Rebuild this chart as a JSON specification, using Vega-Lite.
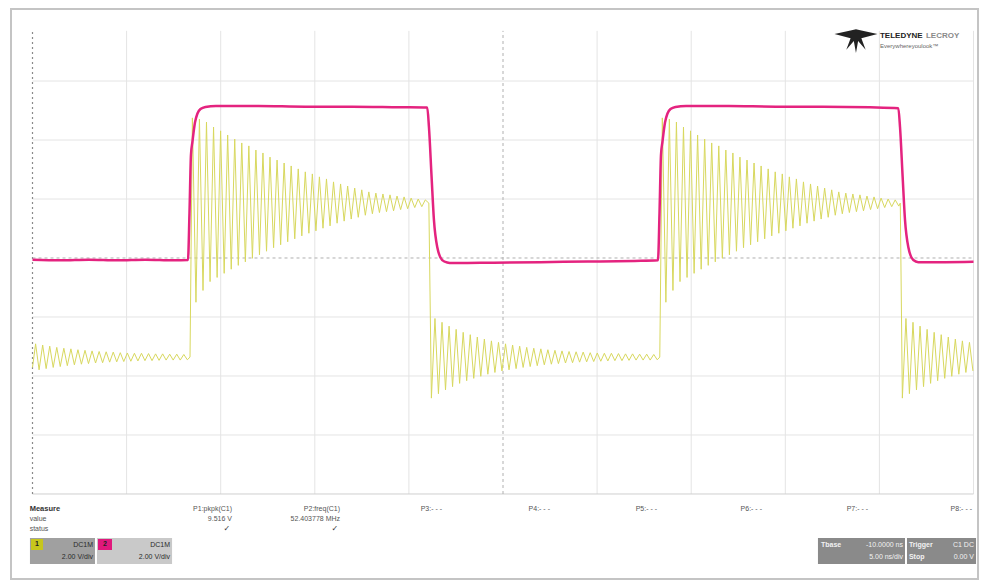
{
"$schema":"https://vega.github.io/schema/vega-lite/v6.json",
"width":982,"height":587,"padding":0,"autosize":{"type":"none"},
"background":"white",
"config":{"view":{"stroke":null}},
"datasets":{
"c1":[{"t":0,"v":-3.71},{"t":0.033,"v":-2.91},{"t":0.07,"v":-3.79},{"t":0.108,"v":-2.95},{"t":0.145,"v":-3.75},{"t":0.183,"v":-2.99},{"t":0.22,"v":-3.71},{"t":0.258,"v":-3.03},{"t":0.295,"v":-3.68},{"t":0.333,"v":-3.06},{"t":0.37,"v":-3.65},{"t":0.408,"v":-3.08},{"t":0.445,"v":-3.62},{"t":0.483,"v":-3.11},{"t":0.52,"v":-3.6},{"t":0.558,"v":-3.13},{"t":0.595,"v":-3.58},{"t":0.633,"v":-3.15},{"t":0.67,"v":-3.56},{"t":0.708,"v":-3.17},{"t":0.745,"v":-3.55},{"t":0.783,"v":-3.18},{"t":0.82,"v":-3.53},{"t":0.858,"v":-3.19},{"t":0.895,"v":-3.52},{"t":0.933,"v":-3.21},{"t":0.97,"v":-3.51},{"t":1.008,"v":-3.22},{"t":1.045,"v":-3.5},{"t":1.083,"v":-3.23},{"t":1.12,"v":-3.49},{"t":1.158,"v":-3.23},{"t":1.195,"v":-3.48},{"t":1.233,"v":-3.24},{"t":1.27,"v":-3.48},{"t":1.308,"v":-3.25},{"t":1.345,"v":-3.47},{"t":1.383,"v":-3.25},{"t":1.42,"v":-3.46},{"t":1.458,"v":-3.26},{"t":1.495,"v":-3.46},{"t":1.533,"v":-3.26},{"t":1.57,"v":-3.46},{"t":1.608,"v":-3.27},{"t":1.645,"v":-3.45},
{"t":1.674,"v":-3.36},
{"t":1.699,"v":4.75},{"t":1.737,"v":-1.5},{"t":1.774,"v":4.71},{"t":1.812,"v":-1.1},{"t":1.849,"v":4.61},{"t":1.887,"v":-0.8},{"t":1.924,"v":4.44},{"t":1.962,"v":-0.66},{"t":1.999,"v":4.31},{"t":2.037,"v":-0.52},{"t":2.074,"v":4.17},{"t":2.112,"v":-0.38},{"t":2.149,"v":4.03},{"t":2.187,"v":-0.25},{"t":2.224,"v":3.9},{"t":2.262,"v":-0.13},{"t":2.299,"v":3.8},{"t":2.337,"v":-0.01},{"t":2.374,"v":3.66},{"t":2.412,"v":0.11},{"t":2.449,"v":3.56},{"t":2.487,"v":0.23},{"t":2.524,"v":3.42},{"t":2.562,"v":0.35},{"t":2.599,"v":3.32},{"t":2.637,"v":0.45},{"t":2.674,"v":3.22},{"t":2.712,"v":0.55},{"t":2.749,"v":3.12},{"t":2.787,"v":0.65},{"t":2.824,"v":3.02},{"t":2.862,"v":0.75},{"t":2.899,"v":2.92},{"t":2.937,"v":0.84},{"t":2.974,"v":2.85},{"t":3.012,"v":0.92},{"t":3.049,"v":2.75},{"t":3.087,"v":1.01},{"t":3.124,"v":2.68},{"t":3.162,"v":1.09},{"t":3.199,"v":2.58},{"t":3.237,"v":1.18},{"t":3.274,"v":2.51},{"t":3.312,"v":1.25},{"t":3.349,"v":2.44},{"t":3.387,"v":1.32},{"t":3.424,"v":2.37},{"t":3.462,"v":1.38},{"t":3.499,"v":2.31},{"t":3.537,"v":1.45},{"t":3.574,"v":2.24},{"t":3.612,"v":1.5},{"t":3.649,"v":2.2},{"t":3.687,"v":1.54},{"t":3.724,"v":2.17},{"t":3.762,"v":1.57},{"t":3.799,"v":2.14},{"t":3.837,"v":1.6},{"t":3.874,"v":2.1},{"t":3.912,"v":1.64},{"t":3.949,"v":2.07},{"t":3.987,"v":1.67},{"t":4.024,"v":2.03},{"t":4.062,"v":1.71},{"t":4.099,"v":2.0},{"t":4.137,"v":1.74},{"t":4.174,"v":1.97},
{"t":4.212,"v":1.86},
{"t":4.239,"v":-4.75},{"t":4.277,"v":-2.05},{"t":4.314,"v":-4.6},{"t":4.352,"v":-2.18},{"t":4.389,"v":-4.47},{"t":4.427,"v":-2.31},{"t":4.464,"v":-4.36},{"t":4.502,"v":-2.42},{"t":4.539,"v":-4.25},{"t":4.577,"v":-2.52},{"t":4.614,"v":-4.16},{"t":4.652,"v":-2.6},{"t":4.689,"v":-4.08},{"t":4.727,"v":-2.68},{"t":4.764,"v":-4.01},{"t":4.802,"v":-2.75},{"t":4.839,"v":-3.94},{"t":4.877,"v":-2.81},{"t":4.914,"v":-3.88},{"t":4.952,"v":-2.86},{"t":4.989,"v":-3.83},{"t":5.027,"v":-2.91},{"t":5.064,"v":-3.79},{"t":5.102,"v":-2.95},{"t":5.139,"v":-3.75},{"t":5.177,"v":-2.99},{"t":5.214,"v":-3.71},{"t":5.252,"v":-3.03},{"t":5.289,"v":-3.68},{"t":5.327,"v":-3.06},{"t":5.364,"v":-3.65},{"t":5.402,"v":-3.08},{"t":5.439,"v":-3.62},{"t":5.477,"v":-3.11},{"t":5.514,"v":-3.6},{"t":5.552,"v":-3.13},{"t":5.589,"v":-3.58},{"t":5.627,"v":-3.15},{"t":5.664,"v":-3.56},{"t":5.702,"v":-3.17},{"t":5.739,"v":-3.55},{"t":5.777,"v":-3.18},{"t":5.814,"v":-3.53},{"t":5.852,"v":-3.19},{"t":5.889,"v":-3.52},{"t":5.927,"v":-3.21},{"t":5.964,"v":-3.51},{"t":6.002,"v":-3.22},{"t":6.039,"v":-3.5},{"t":6.077,"v":-3.23},{"t":6.114,"v":-3.49},{"t":6.152,"v":-3.23},{"t":6.189,"v":-3.48},{"t":6.227,"v":-3.24},{"t":6.264,"v":-3.48},{"t":6.302,"v":-3.25},{"t":6.339,"v":-3.47},{"t":6.377,"v":-3.25},{"t":6.414,"v":-3.46},{"t":6.452,"v":-3.26},{"t":6.489,"v":-3.46},{"t":6.527,"v":-3.26},{"t":6.564,"v":-3.46},{"t":6.602,"v":-3.27},{"t":6.639,"v":-3.45},
{"t":6.666,"v":-3.36},
{"t":6.693,"v":4.75},{"t":6.731,"v":-1.5},{"t":6.768,"v":4.71},{"t":6.806,"v":-1.1},{"t":6.843,"v":4.61},{"t":6.881,"v":-0.8},{"t":6.918,"v":4.44},{"t":6.956,"v":-0.66},{"t":6.993,"v":4.31},{"t":7.031,"v":-0.52},{"t":7.068,"v":4.17},{"t":7.106,"v":-0.38},{"t":7.143,"v":4.03},{"t":7.181,"v":-0.25},{"t":7.218,"v":3.9},{"t":7.256,"v":-0.13},{"t":7.293,"v":3.8},{"t":7.331,"v":-0.01},{"t":7.368,"v":3.66},{"t":7.406,"v":0.11},{"t":7.443,"v":3.56},{"t":7.481,"v":0.23},{"t":7.518,"v":3.42},{"t":7.556,"v":0.35},{"t":7.593,"v":3.32},{"t":7.631,"v":0.45},{"t":7.668,"v":3.22},{"t":7.706,"v":0.55},{"t":7.743,"v":3.12},{"t":7.781,"v":0.65},{"t":7.818,"v":3.02},{"t":7.856,"v":0.75},{"t":7.893,"v":2.92},{"t":7.931,"v":0.84},{"t":7.968,"v":2.85},{"t":8.006,"v":0.92},{"t":8.043,"v":2.75},{"t":8.081,"v":1.01},{"t":8.118,"v":2.68},{"t":8.156,"v":1.09},{"t":8.193,"v":2.58},{"t":8.231,"v":1.18},{"t":8.268,"v":2.51},{"t":8.306,"v":1.25},{"t":8.343,"v":2.44},{"t":8.381,"v":1.32},{"t":8.418,"v":2.37},{"t":8.456,"v":1.38},{"t":8.493,"v":2.31},{"t":8.531,"v":1.45},{"t":8.568,"v":2.24},{"t":8.606,"v":1.5},{"t":8.643,"v":2.2},{"t":8.681,"v":1.54},{"t":8.718,"v":2.17},{"t":8.756,"v":1.57},{"t":8.793,"v":2.14},{"t":8.831,"v":1.6},{"t":8.868,"v":2.1},{"t":8.906,"v":1.64},{"t":8.943,"v":2.07},{"t":8.981,"v":1.67},{"t":9.018,"v":2.03},{"t":9.056,"v":1.71},{"t":9.093,"v":2.0},{"t":9.131,"v":1.74},{"t":9.168,"v":1.97},{"t":9.206,"v":1.76},
{"t":9.222,"v":1.86},
{"t":9.244,"v":-4.75},{"t":9.282,"v":-2.05},{"t":9.319,"v":-4.6},{"t":9.357,"v":-2.18},{"t":9.394,"v":-4.47},{"t":9.432,"v":-2.31},{"t":9.469,"v":-4.36},{"t":9.507,"v":-2.42},{"t":9.544,"v":-4.25},{"t":9.582,"v":-2.52},{"t":9.619,"v":-4.16},{"t":9.657,"v":-2.6},{"t":9.694,"v":-4.08},{"t":9.732,"v":-2.68},{"t":9.769,"v":-4.01},{"t":9.807,"v":-2.75},{"t":9.844,"v":-3.94},{"t":9.882,"v":-2.81},{"t":9.919,"v":-3.88},{"t":9.957,"v":-2.86},{"t":9.994,"v":-3.83}],
"c2":[{"t":0,"v":-0.06},{"t":0.3,"v":-0.08},{"t":0.6,"v":-0.06},{"t":0.9,"v":-0.08},{"t":1.2,"v":-0.06},{"t":1.5,"v":-0.08},{"t":1.652,"v":-0.07},{"t":1.668,"v":1.5},{"t":1.684,"v":3.5},{"t":1.7,"v":3.95},{"t":1.727,"v":4.6},{"t":1.753,"v":4.9},{"t":1.785,"v":5.05},{"t":1.838,"v":5.12},{"t":1.95,"v":5.15},{"t":2.4,"v":5.15},{"t":2.9,"v":5.13},{"t":3.4,"v":5.13},{"t":3.9,"v":5.11},{"t":4.195,"v":5.1},{"t":4.213,"v":4.44},{"t":4.241,"v":2.75},{"t":4.266,"v":1.29},{"t":4.301,"v":0.37},{"t":4.354,"v":-0.07},{"t":4.407,"v":-0.15},{"t":4.46,"v":-0.17},{"t":4.9,"v":-0.16},{"t":5.4,"v":-0.14},{"t":5.9,"v":-0.12},{"t":6.4,"v":-0.1},{"t":6.647,"v":-0.08},{"t":6.663,"v":1.5},{"t":6.679,"v":3.5},{"t":6.695,"v":3.95},{"t":6.722,"v":4.6},{"t":6.748,"v":4.9},{"t":6.78,"v":5.05},{"t":6.833,"v":5.12},{"t":6.945,"v":5.15},{"t":7.4,"v":5.15},{"t":7.9,"v":5.13},{"t":8.4,"v":5.13},{"t":8.9,"v":5.11},{"t":9.201,"v":5.08},{"t":9.219,"v":4.44},{"t":9.247,"v":2.75},{"t":9.272,"v":1.29},{"t":9.307,"v":0.37},{"t":9.36,"v":-0.07},{"t":9.413,"v":-0.14},{"t":9.7,"v":-0.14},{"t":10.0,"v":-0.13}],
"vgrid":[{"t":1,"v":-8,"v2":7.7},{"t":2,"v":-8,"v2":7.7},{"t":3,"v":-8,"v2":7.7},{"t":4,"v":-8,"v2":7.7},{"t":6,"v":-8,"v2":7.7},{"t":7,"v":-8,"v2":7.7},{"t":8,"v":-8,"v2":7.7},{"t":9,"v":-8,"v2":7.7},{"t":10,"v":-8,"v2":7.7}],
"hgrid":[{"t":0,"t2":10,"v":-6},{"t":0,"t2":10,"v":-4},{"t":0,"t2":10,"v":-2},{"t":0,"t2":10,"v":2},{"t":0,"t2":10,"v":4},{"t":0,"t2":10,"v":6}],
"hbottom":[{"t":0,"t2":10,"v":-8}],
"vcenter":[{"t":5,"v":-8,"v2":7.7}],
"hcenter":[{"t":0,"t2":10,"v":0}],
"leftaxis":[{"t":0,"v":-8,"v2":7.7}],
"frame":[{"t":-0.2285,"t2":10.048,"v":8.441,"v2":-10.881}],
"boxes":[{"t":-0.027,"t2":0.664,"v":-9.492,"v2":-10.373,"kind":"c1"},{"t":-0.016,"t2":0.112,"v":-9.525,"v2":-9.898,"kind":"c1sw"},{"t":0.685,"t2":1.483,"v":-9.492,"v2":-10.373,"kind":"c2"},{"t":0.696,"t2":0.845,"v":-9.525,"v2":-9.898,"kind":"c2sw"},{"t":8.347,"t2":9.272,"v":-9.492,"v2":-10.373,"kind":"tb"},{"t":9.293,"t2":10.027,"v":-9.492,"v2":-10.373,"kind":"tb"}],
"logo":[{"t":8.751,"v":7.39}],
"txt":[{"t":-0.03,"v":-8.508,"text":"Measure","kind":"head"},{"t":-0.03,"v":-8.847,"text":"value","kind":"lbl"},{"t":-0.03,"v":-9.186,"text":"status","kind":"lbl"},
{"t":2.12,"v":-8.508,"text":"P1:pkpk(C1)","kind":"pcol"},{"t":3.268,"v":-8.508,"text":"P2:freq(C1)","kind":"pcol"},{"t":4.352,"v":-8.508,"text":"P3:- - -","kind":"pcol"},{"t":5.499,"v":-8.508,"text":"P4:- - -","kind":"pcol"},{"t":6.637,"v":-8.508,"text":"P5:- - -","kind":"pcol"},{"t":7.752,"v":-8.508,"text":"P6:- - -","kind":"pcol"},{"t":8.879,"v":-8.508,"text":"P7:- - -","kind":"pcol"},{"t":9.984,"v":-8.508,"text":"P8:- - -","kind":"pcol"},
{"t":2.12,"v":-8.847,"text":"9.516 V","kind":"pcol"},{"t":3.268,"v":-8.847,"text":"52.403778 MHz","kind":"pcol"},
{"t":2.1,"v":-9.186,"text":"✓","kind":"chk"},{"t":3.248,"v":-9.186,"text":"✓","kind":"chk"},
{"t":0.643,"v":-9.729,"text":"DC1M","kind":"boxR"},{"t":0.643,"v":-10.136,"text":"2.00 V/div","kind":"boxR"},{"t":1.461,"v":-9.729,"text":"DC1M","kind":"boxR"},{"t":1.461,"v":-10.136,"text":"2.00 V/div","kind":"boxR"},
{"t":0.048,"v":-9.71,"text":"1","kind":"sw"},{"t":0.77,"v":-9.71,"text":"2","kind":"sw"},
{"t":8.379,"v":-9.729,"text":"Tbase","kind":"tbL"},{"t":9.251,"v":-9.729,"text":"-10.0000 ns","kind":"tbR"},{"t":9.251,"v":-10.136,"text":"5.00 ns/div","kind":"tbR"},{"t":9.314,"v":-9.729,"text":"Trigger","kind":"tbL"},{"t":10.005,"v":-9.729,"text":"C1 DC","kind":"tbR"},{"t":9.314,"v":-10.136,"text":"Stop","kind":"tbL"},{"t":10.005,"v":-10.136,"text":"0.00 V","kind":"tbR"},
{"t":9.006,"v":7.525,"text":"TELEDYNE","kind":"logoA"},{"t":9.495,"v":7.525,"text":"LECROY","kind":"logoB"},{"t":9.006,"v":7.2,"text":"Everywhereyoulook™","kind":"logoC"}]
},
"encoding":{
"x":{"field":"t","type":"quantitative","scale":{"domain":[-0.3454,10.0903],"nice":false,"zero":false},"axis":null},
"y":{"field":"v","type":"quantitative","scale":{"domain":[-11.153,8.746],"nice":false,"zero":false},"axis":null}
},
"layer":[
{"data":{"name":"frame"},"mark":{"type":"rect","filled":false,"stroke":"#c4c4c4","strokeWidth":2},"encoding":{"x2":{"field":"t2"},"y2":{"field":"v2"}}},
{"data":{"name":"vgrid"},"mark":{"type":"rule","color":"#e4e4e4","strokeWidth":1},"encoding":{"y2":{"field":"v2"}}},
{"data":{"name":"hgrid"},"mark":{"type":"rule","color":"#e4e4e4","strokeWidth":1},"encoding":{"x2":{"field":"t2"}}},
{"data":{"name":"hbottom"},"mark":{"type":"rule","color":"#cfcfcf","strokeWidth":1},"encoding":{"x2":{"field":"t2"}}},
{"data":{"name":"vcenter"},"mark":{"type":"rule","color":"#b0b0b0","strokeWidth":1,"strokeDash":[3,3]},"encoding":{"y2":{"field":"v2"}}},
{"data":{"name":"hcenter"},"mark":{"type":"rule","color":"#b0b0b0","strokeWidth":1,"strokeDash":[3,3]},"encoding":{"x2":{"field":"t2"}}},
{"data":{"name":"leftaxis"},"mark":{"type":"rule","color":"#8a8a8a","strokeWidth":1.2,"strokeDash":[2,3]},"encoding":{"y2":{"field":"v2"}}},
{"data":{"name":"c1"},"mark":{"type":"line","color":"#d8d85e","strokeWidth":1,"interpolate":"linear"},"encoding":{}},
{"data":{"name":"c2"},"mark":{"type":"line","color":"#e4237f","strokeWidth":2.5,"interpolate":"monotone"},"encoding":{}},
{"data":{"name":"boxes"},"mark":{"type":"rect"},"encoding":{"x2":{"field":"t2"},"y2":{"field":"v2"},"color":{"field":"kind","type":"nominal","scale":{"domain":["c1","c1sw","c2","c2sw","tb"],"range":["#a0a0a0","#c6c61c","#c9c9c9","#e0187c","#8a8a8a"]},"legend":null}}},
{"data":{"name":"logo"},"mark":{"type":"point","shape":"M-1,-0.28L-0.2,-0.45L0,-0.5L0.2,-0.45L1,-0.28L0.25,-0.08L0.45,0.45L0.1,0.05L0,0.6L-0.1,0.05L-0.45,0.45L-0.25,-0.08Z","filled":true,"size":1850,"color":"#222222","opacity":1,"strokeWidth":0},"encoding":{}},
{"data":{"name":"txt"},"transform":[{"filter":"datum.kind==='head'"}],"mark":{"type":"text","align":"left","baseline":"middle","font":"Liberation Sans","fontSize":7.5,"fontWeight":"bold","color":"#333333"},"encoding":{"text":{"field":"text"}}},
{"data":{"name":"txt"},"transform":[{"filter":"datum.kind==='lbl'"}],"mark":{"type":"text","align":"left","baseline":"middle","font":"Liberation Sans","fontSize":7,"color":"#555555"},"encoding":{"text":{"field":"text"}}},
{"data":{"name":"txt"},"transform":[{"filter":"datum.kind==='pcol'"}],"mark":{"type":"text","align":"right","baseline":"middle","font":"Liberation Sans","fontSize":7,"color":"#555555"},"encoding":{"text":{"field":"text"}}},
{"data":{"name":"txt"},"transform":[{"filter":"datum.kind==='chk'"}],"mark":{"type":"text","align":"right","baseline":"middle","font":"DejaVu Sans","fontSize":8,"color":"#333333"},"encoding":{"text":{"field":"text"}}},
{"data":{"name":"txt"},"transform":[{"filter":"datum.kind==='boxR'"}],"mark":{"type":"text","align":"right","baseline":"middle","font":"Liberation Sans","fontSize":7,"color":"#2a2a2a"},"encoding":{"text":{"field":"text"}}},
{"data":{"name":"txt"},"transform":[{"filter":"datum.kind==='sw'"}],"mark":{"type":"text","align":"center","baseline":"middle","font":"Liberation Sans","fontSize":7,"fontWeight":"bold","color":"#222222"},"encoding":{"text":{"field":"text"}}},
{"data":{"name":"txt"},"transform":[{"filter":"datum.kind==='tbL'"}],"mark":{"type":"text","align":"left","baseline":"middle","font":"Liberation Sans","fontSize":7,"fontWeight":"bold","color":"#f2f2f2"},"encoding":{"text":{"field":"text"}}},
{"data":{"name":"txt"},"transform":[{"filter":"datum.kind==='tbR'"}],"mark":{"type":"text","align":"right","baseline":"middle","font":"Liberation Sans","fontSize":7,"color":"#f2f2f2"},"encoding":{"text":{"field":"text"}}},
{"data":{"name":"txt"},"transform":[{"filter":"datum.kind==='logoA'"}],"mark":{"type":"text","align":"left","baseline":"middle","font":"Liberation Sans","fontSize":8,"fontWeight":"bold","color":"#222222"},"encoding":{"text":{"field":"text"}}},
{"data":{"name":"txt"},"transform":[{"filter":"datum.kind==='logoB'"}],"mark":{"type":"text","align":"left","baseline":"middle","font":"Liberation Sans","fontSize":8,"fontWeight":"bold","color":"#8a8a8a"},"encoding":{"text":{"field":"text"}}},
{"data":{"name":"txt"},"transform":[{"filter":"datum.kind==='logoC'"}],"mark":{"type":"text","align":"left","baseline":"middle","font":"Liberation Sans","fontSize":6,"color":"#666666"},"encoding":{"text":{"field":"text"}}}
]
}
